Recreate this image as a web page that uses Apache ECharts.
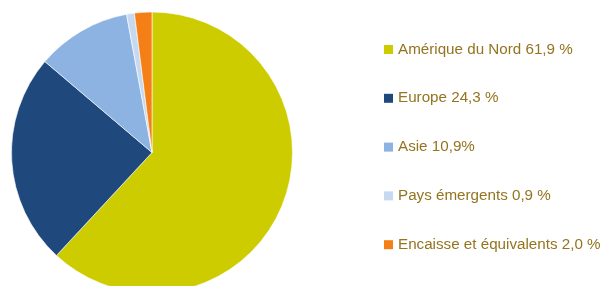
<!DOCTYPE html>
<html>
<head>
<meta charset="utf-8">
<script src="https://cdn.jsdelivr.net/npm/echarts@6/dist/echarts.min.js"></script>
<style>
  html, body { margin: 0; padding: 0; background: #fff; }
  #chart { width: 602px; height: 286px; }
</style>
</head>
<body>
<div id="chart"></div>
<script>
const regions = ['Amérique du Nord', 'Europe', 'Asie', 'Pays émergents', 'Encaisse et équivalents']
const shares = [61.9, 24.3, 10.9, 0.9, 2.0]
const legendLabels = ['Amérique du Nord 61,9 %', 'Europe 24,3 %', 'Asie 10,9%', 'Pays émergents 0,9 %', 'Encaisse et équivalents 2,0 %']
const colors = ['#cccc00', '#1f497d', '#8db3e2', '#c6d9f1', '#f47f17']

const chart = echarts.init(document.getElementById('chart'))

chart.setOption({
  animation: false,
  color: colors,
  legend: {
    orient: 'vertical',
    left: 379,
    top: 36.5,
    padding: 5,
    itemWidth: 9,
    itemHeight: 9,
    itemGap: 32.8,
    icon: 'rect',
    itemStyle: { borderWidth: 0 },
    data: regions,
    formatter: (name) => legendLabels[regions.indexOf(name)],
    textStyle: {
      color: '#94741f',
      fontFamily: 'Liberation Sans, Arial, sans-serif',
      fontSize: 15.2,
      lineHeight: 16,
    },
  },
  series: [{
    type: 'pie',
    center: [152, 152.5],
    radius: [0, 140.5],
    startAngle: 90,
    clockwise: true,
    label: { show: false },
    labelLine: { show: false },
    itemStyle: { borderColor: '#ffffff', borderWidth: 0.6 },
    emphasis: { disabled: true },
    data: regions.map((name, i) => ({ name, value: shares[i] })),
  }],
})
</script>
</body>
</html>
